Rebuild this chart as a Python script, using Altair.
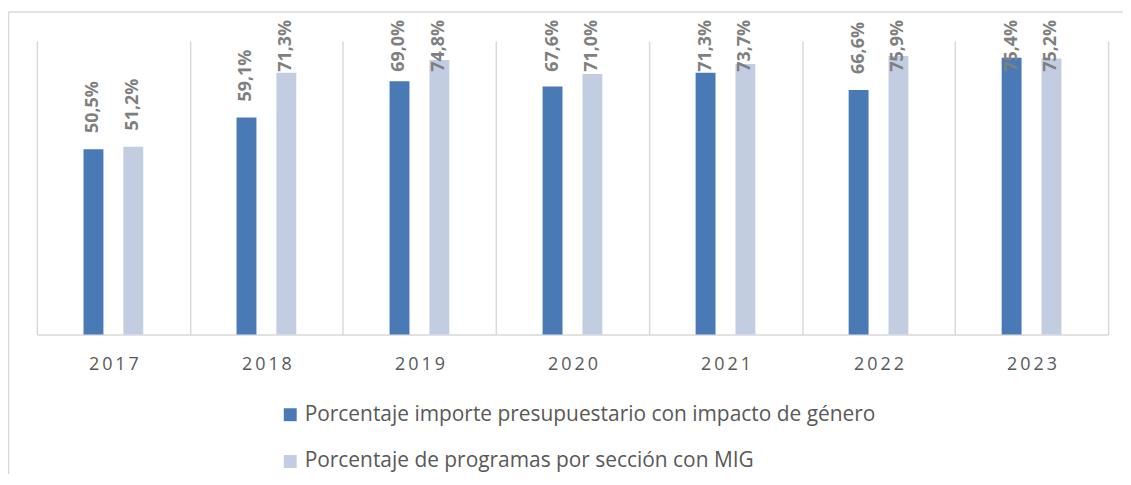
import altair as alt
import pandas as pd

years = ["2017", "2018", "2019", "2020", "2021", "2022", "2023"]
series = ["Porcentaje importe presupuestario con impacto de género",
          "Porcentaje de programas por sección con MIG"]
importe = [50.5, 59.1, 69.0, 67.6, 71.3, 66.6, 75.4]
programas = [51.2, 71.3, 74.8, 71.0, 73.7, 75.9, 75.2]
colors = ["#4A7AB5", "#C3CDE2"]

rows = []
for i, yr in enumerate(years):
    rows.append({"year": yr, "serie": series[0], "value": importe[i]})
    rows.append({"year": yr, "serie": series[1], "value": programas[i]})
df = pd.DataFrame(rows)

W, H = 1076, 295
FONT = "Open Sans"
GRID = "#d9d9d9"

x_enc = alt.X(
    "year:N", sort=years,
    scale=alt.Scale(paddingInner=0, paddingOuter=0),
    axis=alt.Axis(title=None, labelAngle=0, ticks=False, tickBand="extent",
                  domainColor=GRID, domainWidth=1.5,
                  grid=True, gridColor=GRID, gridWidth=1.5,
                  labelFont=FONT, labelFontSize=18, labelColor="#595959",
                  labelPadding=21,
                  labelExpr="join(split(datum.label, ''), '\u2009')"),
)
xoff = alt.XOffset("serie:N", sort=series,
                   scale=alt.Scale(paddingInner=0.16, paddingOuter=1))
yscale = alt.Scale(domain=[0, 80])

base = alt.Chart(df).encode(x=x_enc, xOffset=xoff)

bars = base.mark_bar(width=20).encode(
    y=alt.Y("value:Q", scale=yscale, axis=None),
    color=alt.Color(
        "serie:N", sort=series,
        scale=alt.Scale(domain=series, range=colors),
        legend=alt.Legend(title=None, orient="none", legendX=244, legendY=365,
                          direction="vertical", symbolType="square",
                          symbolSize=169, symbolStrokeWidth=0,
                          labelFont=FONT, labelFontSize=21, labelColor="#595959",
                          rowPadding=25, labelOffset=4, padding=0, labelLimit=0),
    ),
)

labels = base.mark_text(
    angle=270, align="left", baseline="middle", font=FONT, fontSize=18,
    fontWeight="bold", color="#7f7f7f",
).transform_calculate(
    pos="min(datum.value + 4.4, 71.6)",
    lbl="replace(format(datum.value, '.1f'), '.', ',') + '%'",
).encode(
    y=alt.Y("pos:Q", scale=yscale, axis=None),
    text="lbl:N",
)

frame_df = pd.DataFrame({"k": [0]})
left_border = alt.Chart(frame_df).mark_rule(color=GRID, strokeWidth=1.5).encode(
    x=alt.value(-28.5), y=alt.value(-29), y2=alt.value(H + 140))
top_border = alt.Chart(frame_df).mark_rule(color=GRID, strokeWidth=1.5).encode(
    x=alt.value(-28.5), x2=alt.value(W + 15), y=alt.value(-29))

chart = alt.layer(bars, labels, left_border, top_border).properties(
    width=W, height=H,
    padding={"left": 29, "top": 32, "right": 15, "bottom": 140},
    autosize=alt.AutoSizeParams(type="none"),
).configure_view(stroke=None)

chart.save("out.html", embed_options={"renderer": "svg", "actions": False})
